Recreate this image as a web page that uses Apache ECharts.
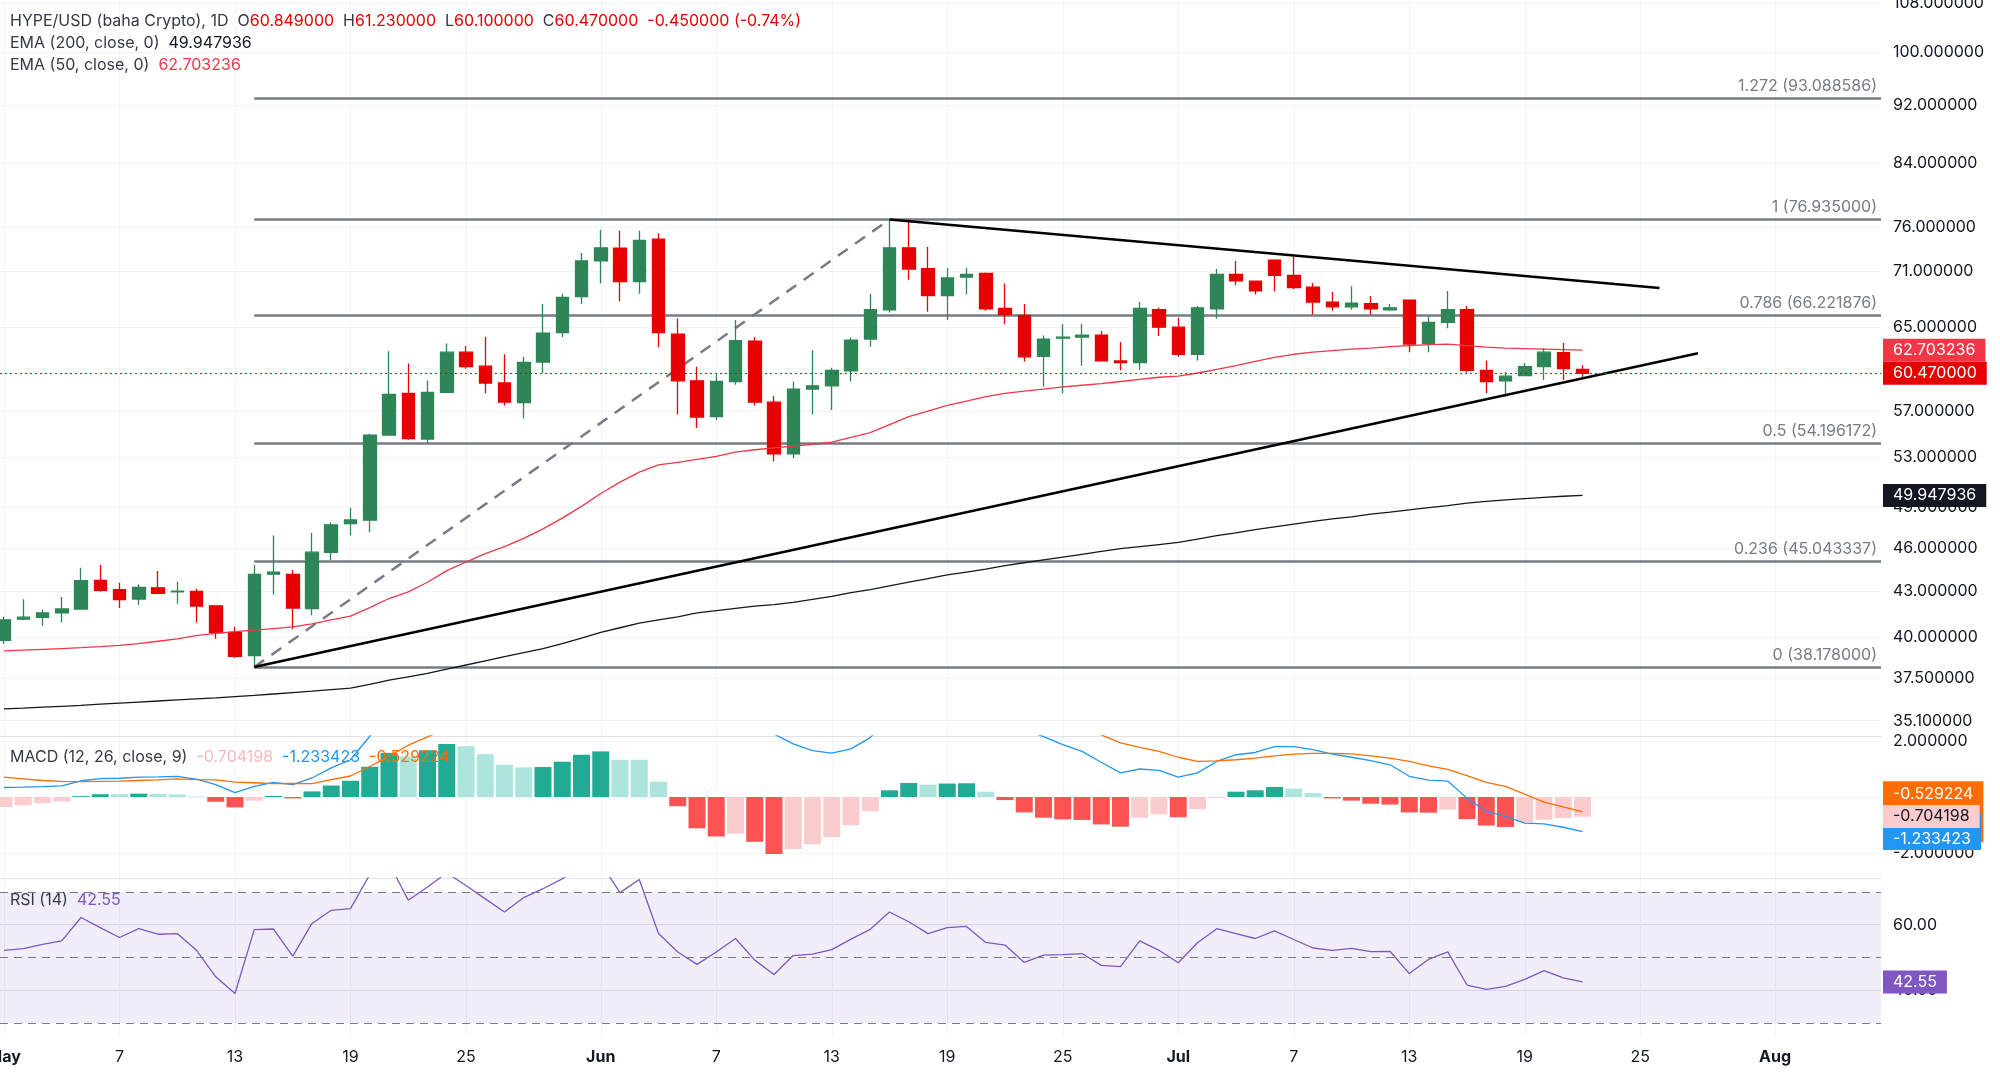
<!DOCTYPE html>
<html>
<head>
<meta charset="utf-8">
<title>HYPE/USD 1D</title>
<script src="https://cdn.jsdelivr.net/npm/echarts@6/dist/echarts.min.js"></script>
<style>
  html, body { margin: 0; padding: 0; background: #ffffff; }
  #chart { width: 2000px; height: 1087px; }
</style>
</head>
<body>
<div id="chart"></div>
<script>
// day index 0 = May 1
const tickDays = [0, 6, 12, 18, 24, 31, 37, 43, 49, 55, 61, 67, 73, 79, 85, 92];
const tickLabels = ["May", "7", "13", "19", "25", "Jun", "7", "13", "19", "25", "Jul", "7", "13", "19", "25", "Aug"];

const open = [39.8, 41.15, 41.26, 41.55, 41.81, 43.72, 43.1, 42.47, 43.22, 42.95, 42.98, 42.02, 40.3, 38.87, 44.15, 44.14, 41.83, 45.68, 47.8, 48.05,
  54.9, 58.6, 54.55, 58.7, 62.5, 61.15, 59.56, 57.77, 61.55, 64.45, 68.2, 72.1, 73.55, 69.8, 74.6, 64.3, 59.76, 56.5, 59.7, 63.6,
  57.8, 53.3, 59.0, 59.3, 60.7, 63.8, 66.8, 73.6, 71.25, 68.3, 70.3, 70.7, 66.95, 66.2, 62.1, 63.9, 64.0, 64.2, 61.65, 61.5,
  66.8, 65.0, 62.3, 66.9, 70.6, 69.85, 72.2, 70.5, 69.2, 67.6, 67.1, 67.45, 66.8, 67.8, 63.37, 65.5, 66.8, 60.75, 59.75, 60.25,
  61.1, 62.45, 60.849];
const high = [41.3, 42.45, 41.77, 42.6, 44.6, 44.8, 43.56, 43.45, 44.38, 43.64, 43.15, 42.05, 40.67, 44.8, 46.9, 44.44, 47.1, 47.9, 49.0, 55.0,
  62.6, 61.4, 59.8, 63.35, 63.1, 64.0, 62.3, 62.05, 67.4, 68.5, 73.0, 75.7, 75.6, 75.6, 75.3, 65.9, 61.1, 60.5, 65.74, 64.0,
  58.35, 59.7, 62.7, 61.0, 63.97, 68.5, 76.935, 76.65, 73.7, 71.3, 71.35, 70.8, 69.6, 67.4, 64.15, 65.3, 65.35, 64.6, 63.5, 67.6,
  67.0, 65.97, 67.2, 71.2, 72.1, 69.9, 72.3, 72.7, 69.65, 68.7, 69.3, 68.25, 67.4, 67.85, 66.1, 68.8, 67.2, 61.7, 60.6, 61.45,
  62.9, 63.4, 61.23];
const low = [39.6, 41.1, 40.72, 40.95, 41.8, 42.95, 41.88, 42.08, 42.83, 42.16, 40.93, 39.9, 38.72, 38.178, 42.75, 40.5, 41.4, 45.15, 46.9, 47.15,
  54.85, 54.5, 54.2, 58.65, 60.9, 58.6, 57.5, 56.35, 60.5, 64.0, 67.4, 69.6, 67.7, 68.5, 63.0, 56.7, 55.5, 56.2, 59.4, 57.5,
  52.7, 52.95, 56.7, 57.1, 59.7, 63.05, 66.5, 70.0, 66.6, 65.74, 68.45, 66.7, 65.3, 61.6, 59.2, 58.6, 61.2, 61.6, 60.75, 60.8,
  64.1, 62.05, 61.7, 65.9, 69.4, 68.4, 68.75, 69.0, 66.3, 66.7, 66.8, 66.3, 66.7, 62.5, 62.5, 64.9, 60.55, 58.6, 58.3, 60.2,
  59.85, 59.85, 60.1];
const close = [41.1, 41.28, 41.55, 41.81, 43.7, 43.05, 42.43, 43.24, 42.85, 43.0, 42.0, 40.3, 38.82, 44.14, 44.3, 41.87, 45.7, 47.7, 48.06, 54.9,
  58.5, 54.6, 58.7, 62.5, 61.1, 59.55, 57.8, 61.5, 64.4, 68.1, 72.1, 73.6, 69.8, 74.45, 64.44, 59.76, 56.47, 59.7, 63.65, 57.8,
  53.3, 59.0, 59.3, 60.75, 63.7, 66.8, 73.6, 71.2, 68.3, 70.2, 70.6, 66.9, 66.3, 62.05, 63.8, 64.0, 64.2, 61.65, 61.5, 66.95,
  65.0, 62.3, 67.0, 70.6, 69.9, 68.8, 70.5, 69.15, 67.6, 67.1, 67.5, 66.9, 67.0, 63.3, 65.5, 66.8, 60.75, 59.7, 60.2, 61.1,
  62.5, 60.92, 60.47];

const ema200 = [35.76, 35.8, 35.85, 35.9, 35.95, 36.02, 36.08, 36.14, 36.2, 36.26, 36.32, 36.38, 36.45, 36.52, 36.6, 36.68, 36.76, 36.85, 36.94, 37.15,
  37.4, 37.6, 37.8, 38.05, 38.3, 38.55, 38.8, 39.05, 39.3, 39.6, 39.95, 40.3, 40.6, 40.9, 41.1, 41.3, 41.55, 41.7, 41.85, 42.0,
  42.1, 42.25, 42.45, 42.65, 42.9, 43.1, 43.35, 43.6, 43.85, 44.1, 44.3, 44.5, 44.75, 44.95, 45.15, 45.35, 45.55, 45.75, 45.95, 46.1,
  46.25, 46.4, 46.65, 46.9, 47.1, 47.35, 47.55, 47.75, 47.95, 48.15, 48.3, 48.5, 48.65, 48.83, 49.0, 49.15, 49.34, 49.48, 49.6, 49.7,
  49.8, 49.88, 49.947936];
const ema50 = [39.15, 39.2, 39.25, 39.3, 39.35, 39.42, 39.5, 39.6, 39.75, 39.9, 40.1, 40.25, 40.35, 40.45, 40.55, 40.65, 40.85, 41.1, 41.35, 41.9,
  42.5, 42.95, 43.6, 44.4, 45.0, 45.6, 46.1, 46.7, 47.4, 48.2, 49.1, 50.1, 51.0, 51.8, 52.4, 52.6, 52.85, 53.1, 53.45, 53.65,
  53.8, 53.95, 54.1, 54.3, 54.7, 55.1, 55.8, 56.5, 57.0, 57.5, 57.9, 58.3, 58.6, 58.8, 59.0, 59.2, 59.35, 59.5, 59.7, 59.9,
  60.1, 60.2, 60.5, 60.85, 61.2, 61.6, 62.0, 62.3, 62.5, 62.65, 62.8, 62.9, 63.05, 63.15, 63.25, 63.3, 63.15, 63.0, 62.9, 62.85,
  62.8, 62.75, 62.703236];

const macdLine = [0.34, 0.35, 0.37, 0.40, 0.58, 0.66, 0.67, 0.71, 0.72, 0.74, 0.64, 0.44, 0.16, 0.38, 0.52, 0.44, 0.68, 1.04, 1.33, 2.17,
  3.02, 3.30, 3.82, 4.34, 4.71, 4.83, 4.75, 4.91, 5.17, 5.66, 6.31, 6.83, 6.83, 7.18, 6.55, 5.57, 4.48, 3.84, 3.64, 2.95,
  2.25, 1.90, 1.66, 1.57, 1.72, 2.12, 2.84, 3.20, 3.24, 3.38, 3.49, 3.24, 2.89, 2.40, 2.16, 1.87, 1.63, 1.24, 0.86, 1.00,
  0.95, 0.71, 0.86, 1.27, 1.51, 1.59, 1.80, 1.80, 1.69, 1.53, 1.42, 1.30, 1.15, 0.74, 0.60, 0.57, -0.04, -0.51, -0.69, -0.93,
  -0.96, -1.08, -1.233423];
const signalLine = [0.71, 0.65, 0.59, 0.56, 0.55, 0.56, 0.57, 0.59, 0.61, 0.65, 0.62, 0.61, 0.53, 0.51, 0.48, 0.49, 0.48, 0.62, 0.75, 1.09,
  1.45, 1.85, 2.15, 2.45, 2.90, 3.30, 3.60, 3.85, 4.10, 4.40, 4.80, 5.20, 5.50, 5.85, 6.00, 5.90, 5.60, 5.25, 4.95, 4.55,
  4.29, 3.76, 3.35, 3.00, 2.73, 2.63, 2.60, 2.70, 2.80, 2.90, 3.00, 3.05, 3.00, 2.95, 2.90, 2.67, 2.45, 2.22, 1.93, 1.77,
  1.63, 1.42, 1.27, 1.29, 1.33, 1.39, 1.47, 1.53, 1.56, 1.56, 1.54, 1.47, 1.39, 1.27, 1.11, 0.99, 0.76, 0.52, 0.38, 0.10,
  -0.18, -0.35, -0.529224];
const macdHist = [-0.36, -0.30, -0.22, -0.16, 0.03, 0.10, 0.10, 0.12, 0.11, 0.09, 0.02, -0.17, -0.37, -0.13, 0.04, -0.05, 0.20, 0.41, 0.58, 1.08,
  1.57, 1.45, 1.67, 1.89, 1.81, 1.53, 1.15, 1.06, 1.07, 1.26, 1.51, 1.63, 1.33, 1.33, 0.55, -0.33, -1.12, -1.41, -1.31, -1.60,
  -2.04, -1.86, -1.69, -1.43, -1.01, -0.51, 0.24, 0.50, 0.44, 0.48, 0.49, 0.19, -0.11, -0.55, -0.74, -0.80, -0.82, -0.98, -1.06, -0.74,
  -0.62, -0.72, -0.43, -0.03, 0.19, 0.24, 0.36, 0.30, 0.14, -0.05, -0.13, -0.24, -0.27, -0.55, -0.56, -0.45, -0.79, -1.02, -1.07, -0.91,
  -0.81, -0.75, -0.704198];

const rsi = [52.2, 52.7, 54.0, 55.1, 62.2, 59.1, 56.1, 58.8, 57.1, 57.3, 52.2, 44.1, 39.0, 58.5, 58.7, 50.4, 60.4, 64.4, 64.9, 75.3,
  78.8, 67.5, 71.5, 75.8, 72.0, 67.9, 63.9, 68.3, 71.0, 74.0, 78.0, 78.8, 69.8, 73.8, 57.3, 51.7, 47.9, 51.7, 55.8, 49.2,
  44.8, 50.6, 51.0, 52.4, 55.6, 58.6, 63.9, 60.9, 57.3, 59.1, 59.5, 54.6, 53.8, 48.5, 50.7, 50.9, 51.2, 47.6, 47.2, 55.1,
  52.2, 48.4, 54.5, 58.8, 57.3, 55.8, 58.1, 55.5, 52.9, 52.2, 52.8, 51.8, 51.9, 45.1, 49.4, 51.7, 41.6, 40.3, 41.2, 43.3,
  46.0, 43.8, 42.55];

const priceTicks = [35.1, 37.5, 40, 43, 46, 49, 53, 57, 65, 71, 76, 84, 92, 100, 108];
const fibRatios = [1.272, 1, 0.786, 0.5, 0.236, 0];
const fibPrices = [93.088586, 76.935, 66.221876, 54.196172, 45.043337, 38.178];
const fibAnchor = [[13, 38.178], [46, 76.935]];
const resistance = [[46, 76.935], [86, 69.1]];
const support = [[13, 38.178], [88, 62.4]];

const FONT = "Inter, Roboto, sans-serif";
const TEXT = "#131722";
const GRID = "#f0f3fa";
const UP = "#2e8557";
const DOWN = "#e60000";
const FIB = "#787b86";
const HIDDEN_LINE = { color: "rgba(0,0,0,0)", width: 0 };

// 19.25px per day, May 1 centred at x=4, plot ends at x=1881
const X_MIN = -4 / 19.25;
const X_MAX = X_MIN + 1881 / 19.25;

const n = close.length - 1;
const fmt = (v) => v.toFixed(6);
const change = close[n] - close[n - 1];

function histColor(i) {
  const v = macdHist[i];
  const prev = i > 0 ? macdHist[i - 1] : v;
  if (v >= 0) return v > prev ? "#22ab94" : "#ace5dc";
  return v < prev ? "#ff5252" : "#fccbcd";
}

function xAxisFor(gridIndex) {
  return {
    type: "value",
    gridIndex,
    min: X_MIN,
    max: X_MAX,
    axisLine: { show: gridIndex < 2, onZero: false, lineStyle: { color: "#e0e3eb" } },
    axisTick: { show: false, customValues: tickDays },
    splitLine: { show: true, lineStyle: { color: GRID } },
    axisLabel: {
      show: gridIndex === 2,
      customValues: tickDays,
      margin: 12,
      color: TEXT,
      fontSize: 16,
      fontFamily: FONT,
      formatter: (value) => {
        const label = tickLabels[tickDays.indexOf(Math.round(value))] || "";
        return isNaN(Number(label)) ? `{m|${label}}` : label;
      },
      rich: { m: { fontWeight: "bold", fontSize: 16, fontFamily: FONT, color: TEXT } },
    },
  };
}

function yAxisFor(gridIndex, extra) {
  return Object.assign({
    gridIndex,
    position: "right",
    axisLine: { show: false },
    splitLine: { show: true, lineStyle: { color: GRID } },
  }, extra);
}

// price-scale tag drawn at the end of an invisible mark line
function tag(bg, fg, lineHeight) {
  return {
    show: true,
    position: "end",
    distance: 2,
    backgroundColor: bg,
    color: fg,
    fontSize: 16,
    lineHeight: lineHeight || 16,
    fontFamily: FONT,
    padding: [3, 10, 4, 10],
  };
}

const legendText = { fontSize: 16, fontFamily: FONT, color: "#363a45", fontWeight: "normal", lineHeight: 20 };
function legend(top, text, rich) {
  return { left: 10, top, padding: 0, text, textStyle: Object.assign({}, legendText, { rich }) };
}
const rich = (color) => ({ fontSize: 16, fontFamily: FONT, color });

const chart = echarts.init(document.getElementById("chart"), null, { renderer: "canvas" });

chart.setOption({
  animation: false,
  backgroundColor: "#ffffff",
  title: [
    legend(11,
      `HYPE/USD (baha Crypto), 1D  O{r|${fmt(open[n])}}  H{r|${fmt(high[n])}}  L{r|${fmt(low[n])}}  C{r|${fmt(close[n])}}  {r|${fmt(change)} (${(change / close[n - 1] * 100).toFixed(2)}%)}`,
      { r: rich(DOWN) }),
    legend(33, `EMA (200, close, 0)  {k|${fmt(ema200[n])}}`, { k: rich(TEXT) }),
    legend(55, `EMA (50, close, 0)  {r|${fmt(ema50[n])}}`, { r: rich("#f23645") }),
    legend(747, `MACD (12, 26, close, 9)  {p|${fmt(macdHist[n])}}  {b|${fmt(macdLine[n])}}  {o|${fmt(signalLine[n])}}`,
      { p: rich("#f7b9bd"), b: rich("#2196f3"), o: rich("#ff6d00") }),
    legend(890, `RSI (14)  {u|${rsi[n].toFixed(2)}}`, { u: rich("#7e57c2") }),
  ],
  grid: [
    { left: 0, right: 119, top: 0, height: 736, containLabel: false, outerBoundsMode: "none" },
    { left: 0, right: 119, top: 736, height: 142, containLabel: false, outerBoundsMode: "none" },
    { left: 0, right: 119, top: 878, height: 159, containLabel: false, outerBoundsMode: "none" },
  ],
  xAxis: [xAxisFor(0), xAxisFor(1), xAxisFor(2)],
  yAxis: [
    yAxisFor(0, {
      type: "log",
      logBase: 10,
      min: 34.27,
      max: 108.49,
      axisTick: { show: false, customValues: priceTicks },
      axisLabel: { customValues: priceTicks, formatter: (v) => fmt(v), color: TEXT, fontSize: 16, fontFamily: FONT, margin: 12 },
    }),
    yAxisFor(1, {
      type: "value",
      min: -2.893,
      max: 2.179,
      axisTick: { show: false, customValues: [-2, 0, 2] },
      axisLabel: { customValues: [-2, 2], formatter: (v) => fmt(v), color: TEXT, fontSize: 16, fontFamily: FONT, margin: 12 },
    }),
    yAxisFor(2, {
      type: "value",
      min: 25.73,
      max: 74.27,
      axisTick: { show: false, customValues: [40, 60] },
      splitLine: { show: true, lineStyle: { color: "#e4dff0" } },
      axisLabel: { customValues: [40, 60], formatter: (v) => v.toFixed(2), color: TEXT, fontSize: 16, fontFamily: FONT, margin: 12 },
    }),
  ],
  series: [
    {
      // fib retracement tool: anchor + levels
      type: "line",
      xAxisIndex: 0,
      yAxisIndex: 0,
      z: 1,
      data: fibAnchor,
      symbol: "none",
      silent: true,
      lineStyle: { color: FIB, width: 2.5, type: [12, 9] },
      markLine: {
        silent: true,
        symbol: "none",
        z: 1,
        lineStyle: { color: FIB, width: 2.5, type: "solid" },
        label: {
          position: "insideEndTop",
          distance: 4,
          color: FIB,
          fontSize: 16,
          fontFamily: FONT,
          formatter: (p) => p.name,
        },
        data: fibPrices.map((price, k) => {
          const name = `${fibRatios[k]} (${fmt(price)})`;
          return [{ name, coord: [fibAnchor[0][0], price] }, { name, coord: [X_MAX, price] }];
        }),
      },
    },
    {
      type: "candlestick",
      xAxisIndex: 0,
      yAxisIndex: 0,
      z: 3,
      barWidth: 13,
      data: open.map((o, i) => [i, o, close[i], low[i], high[i]]),
      itemStyle: { color: UP, color0: DOWN, borderColor: UP, borderColor0: DOWN, borderWidth: 1.3 },
      markLine: {
        silent: true,
        symbol: "none",
        z: 5,
        lineStyle: { color: DOWN, width: 1, type: [2, 3] },
        label: Object.assign(tag(DOWN, "#ffffff"), { formatter: fmt(close[n]) }),
        data: [{ yAxis: close[n] }],
      },
    },
    {
      type: "line",
      xAxisIndex: 0,
      yAxisIndex: 0,
      z: 4,
      data: ema200.map((v, i) => [i, v]),
      symbol: "none",
      silent: true,
      lineStyle: { color: TEXT, width: 1.3 },
      markLine: {
        silent: true,
        symbol: "none",
        z: 5,
        lineStyle: HIDDEN_LINE,
        label: Object.assign(tag(TEXT, "#ffffff"), { formatter: fmt(ema200[n]) }),
        data: [{ yAxis: ema200[n] }],
      },
    },
    {
      type: "line",
      xAxisIndex: 0,
      yAxisIndex: 0,
      z: 4,
      data: ema50.map((v, i) => [i, v]),
      symbol: "none",
      silent: true,
      lineStyle: { color: "#f23645", width: 1.3 },
      markLine: {
        silent: true,
        symbol: "none",
        z: 5,
        lineStyle: HIDDEN_LINE,
        label: Object.assign(tag("#f23645", "#ffffff"), { formatter: fmt(ema50[n]) }),
        data: [{ yAxis: ema50[n] }],
      },
    },
    {
      type: "line",
      xAxisIndex: 0,
      yAxisIndex: 0,
      z: 4,
      data: resistance,
      symbol: "none",
      silent: true,
      lineStyle: { color: "#000000", width: 2.5 },
    },
    {
      type: "line",
      xAxisIndex: 0,
      yAxisIndex: 0,
      z: 4,
      data: support,
      symbol: "none",
      silent: true,
      lineStyle: { color: "#000000", width: 2.5 },
    },
    {
      type: "bar",
      xAxisIndex: 1,
      yAxisIndex: 1,
      barWidth: 17,
      silent: true,
      data: macdHist.map((v, i) => ({ value: [i, v], itemStyle: { color: histColor(i) } })),
      markLine: {
        silent: true,
        symbol: "none",
        z: 7,
        lineStyle: HIDDEN_LINE,
        label: Object.assign(tag("#fccbcd", TEXT), { formatter: fmt(macdHist[n]) }),
        data: [{ yAxis: macdHist[n] }],
      },
    },
    {
      type: "line",
      xAxisIndex: 1,
      yAxisIndex: 1,
      z: 3,
      data: macdLine.map((v, i) => [i, v]),
      symbol: "none",
      silent: true,
      lineStyle: { color: "#2196f3", width: 1.3 },
      markLine: {
        silent: true,
        symbol: "none",
        z: 6,
        lineStyle: HIDDEN_LINE,
        // blank first line pushes the text below the pink tag, like the price scale does
        label: Object.assign(tag("#2196f3", "#ffffff", 15), { formatter: "\n" + fmt(macdLine[n]) }),
        data: [{ yAxis: macdLine[n] }],
      },
    },
    {
      type: "line",
      xAxisIndex: 1,
      yAxisIndex: 1,
      z: 3,
      data: signalLine.map((v, i) => [i, v]),
      symbol: "none",
      silent: true,
      lineStyle: { color: "#ff6d00", width: 1.3 },
      markLine: {
        silent: true,
        symbol: "none",
        z: 5,
        lineStyle: HIDDEN_LINE,
        label: Object.assign(tag("#ff6d00", "#ffffff", 18), { formatter: fmt(signalLine[n]) + "\n\n" }),
        data: [{ yAxis: signalLine[n] }],
      },
    },
    {
      type: "line",
      xAxisIndex: 2,
      yAxisIndex: 2,
      z: 3,
      data: rsi.map((v, i) => [i, v]),
      symbol: "none",
      silent: true,
      lineStyle: { color: "#7e57c2", width: 1.3 },
      markArea: {
        silent: true,
        itemStyle: { color: "rgba(126, 87, 194, 0.1)" },
        data: [[{ yAxis: 70 }, { yAxis: 30 }]],
      },
      markLine: {
        silent: true,
        symbol: "none",
        z: 5,
        lineStyle: { color: FIB, width: 1, type: [8, 6] },
        label: { show: false },
        data: [
          { yAxis: 70 },
          { yAxis: 50 },
          { yAxis: 30 },
          {
            yAxis: rsi[n],
            lineStyle: HIDDEN_LINE,
            label: Object.assign(tag("#7e57c2", "#ffffff"), { formatter: rsi[n].toFixed(2) }),
          },
        ],
      },
    },
  ],
});
</script>
</body>
</html>
